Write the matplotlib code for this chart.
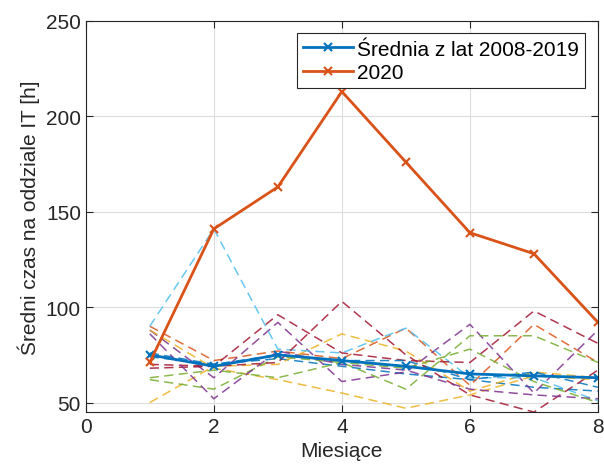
import numpy as np
import matplotlib.pyplot as plt

plt.rcParams['font.family'] = ['Liberation Sans', 'DejaVu Sans']

months = [1, 2, 3, 4, 5, 6, 7, 8]

# yearly curves 2008-2019 (dashed)
y2008 = [74, 70, 73, 69, 65, 62, 58, 56]
y2009 = [90, 72, 77, 73, 89, 59, 91, 71]
y2010 = [50, 69, 70, 86, 77, 56, 66, 63]
y2011 = [88, 63, 92, 61, 66, 91, 55, 88]
y2012 = [62, 57, 74, 71, 57, 85, 85, 71]
y2013 = [90, 141, 78, 76, 89, 63, 63, 51]
y2014 = [70, 69, 96, 76, 72, 71, 98, 81]
y2015 = [76, 70, 75, 72, 72, 62, 66, 58]
y2016 = [68, 69, 71, 103, 75, 54, 45, 67]
y2017 = [88, 68, 62, 55, 47, 54, 64, 62]
y2018 = [86, 52, 77, 70, 67, 57, 54, 52]
y2019 = [63, 67, 63, 71, 68, 78, 61, 50]
years = [y2008, y2009, y2010, y2011, y2012, y2013,
         y2014, y2015, y2016, y2017, y2018, y2019]
year_colors = ['#0072BD', '#D95319', '#EDB120', '#7E2F8E', '#77AC30', '#4DBEEE',
               '#A2142F', '#0072BD', '#A2142F', '#EDB120', '#7E2F8E', '#77AC30']

avg = [75, 69, 75, 72, 69, 65, 64, 63]
y2020 = [71, 141, 163, 213, 176, 139, 128, 92]

fig = plt.figure(figsize=(6.04, 4.77), dpi=100)
ax = fig.add_axes([0.142, 0.134, 0.848, 0.820])

for vals, c in zip(years, year_colors):
    ax.plot(months, vals, color=c, lw=1.1, alpha=0.85, dashes=(6, 3.5))

ax.plot(months, avg, '-x', color='#0072BD', lw=2, ms=6, mew=1.5, label='Średnia z lat 2008-2019')
ax.plot(months, y2020, '-x', color='#D95319', lw=2, ms=6, mew=1.5, label='2020')

ax.set_xlim(0, 8)
ax.set_ylim(45, 250)
ax.set_xticks([0, 2, 4, 6, 8])
ax.set_yticks([50, 100, 150, 200, 250])
ax.grid(True, color='#dcdcdc', lw=0.8)
ax.set_axisbelow(True)
ax.tick_params(direction='in', top=True, right=True, labelsize=15, colors='#262626', length=5)
for s in ax.spines.values():
    s.set_color('#262626')
ax.set_xlabel('Miesiące', fontsize=15, color='#262626')
ax.set_ylabel('Średni czas na oddziale IT [h]', fontsize=15, color='#262626')

leg = ax.legend(loc='upper right', fontsize=15, fancybox=False, framealpha=1,
                edgecolor='#262626', handlelength=2.4, handletextpad=0.2,
                borderpad=0.3, labelspacing=0.2, borderaxespad=0.6)
leg.get_frame().set_linewidth(0.8)

fig.savefig('out.png', dpi=100)
